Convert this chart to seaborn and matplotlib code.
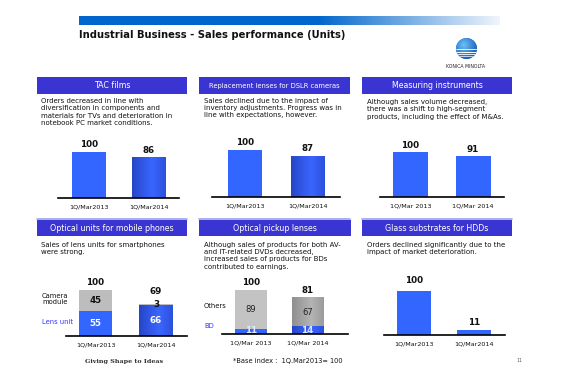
import numpy as np
import pandas as pd
import matplotlib
matplotlib.use("Agg")
import matplotlib.pyplot as plt
from matplotlib.patches import Rectangle, Circle
from matplotlib.colors import to_rgb
import seaborn as sns

# ---------------- data ----------------
periods_a = ['1Q/Mar2013', '1Q/Mar2014']
periods_b = ['1Q/Mar 2013', '1Q/Mar 2014']
tac = [100, 86]
dslr = [100, 87]
measuring = [100, 91]
mobile_lens = [55, 66]
mobile_camera = [45, 3]
pickup_bd = [11, 14]
pickup_others = [89, 67]
hdd = [100, 11]

titles = ['TAC films', 'Replacement lenses for DSLR cameras', 'Measuring instruments',
          'Optical units for mobile phones', 'Optical pickup lenses', 'Glass substrates for HDDs']
descs = [
    "Orders decreased in line with\ndiversification in components and\nmaterials for TVs and deterioration in\nnotebook PC market conditions.",
    "Sales declined due to the impact of\ninventory adjustments. Progress was in\nline with expectations, however.",
    "Although sales volume decreased,\nthere was a shift to high-segment\nproducts, including the effect of M&As.",
    "Sales of lens units for smartphones\nwere strong.",
    "Although sales of products for both AV-\nand IT-related DVDs decreased,\nincreased sales of products for BDs\ncontributed to earnings.",
    "Orders declined significantly due to the\nimpact of market deterioration.",
]

sns.set_style('white')
plt.rcParams['font.family'] = ['DejaVu Sans']

W, H = 562, 390
fig = plt.figure(figsize=(W / 100, H / 100), dpi=100)
fig.patch.set_facecolor('white')

BLUE = '#3366ff'
HEAD = '#3a35d2'


def fx(x):
    return x / W


def fy(y):
    return 1 - y / H


def add_ax(x0, x1, ytop, ybot):
    ax = fig.add_axes([x0 / W, 1 - ybot / H, (x1 - x0) / W, (ybot - ytop) / H])
    ax.set_facecolor('none')
    return ax


def ftext(x, y, s, **kw):
    fig.text(fx(x), fy(y), s, **kw)


# ---------------- title banner ----------------
bx = add_ax(79, 500, 16, 25)
n = 421
t = np.arange(n)
c0 = np.array(to_rgb('#0066cc'))
c1 = np.array(to_rgb('#f2f6fc'))
w = np.clip((t - 238) / (n - 238), 0, 1)
grad = c0[None, :] * (1 - w[:, None]) + c1[None, :] * w[:, None]
bx.imshow(grad[None, :, :], aspect='auto', extent=[0, 1, 0, 1])
bx.set_axis_off()

ftext(79, 35, 'Industrial Business - Sales performance (Units)', fontsize=7.2,
      fontweight='bold', va='center', ha='left', color='#111111')

# ---------------- logo ----------------
lx = add_ax(453, 480, 37, 60)
lx.set_xlim(-1.1, 1.1)
lx.set_ylim(-1.1, 1.1)
lx.set_aspect('equal')
circ = Circle((0, 0), 1.0, facecolor='#1670d6', edgecolor='none')
lx.add_patch(circ)
yy, xx = np.mgrid[1:-1:60j, -1:1:60j]
rad = np.sqrt((xx + 0.25) ** 2 + (yy - 0.35) ** 2)
wl = np.clip(1 - rad / 1.6, 0, 1)
light = np.array(to_rgb('#6fc0f5'))
dark = np.array(to_rgb('#0a4fb0'))
img = dark[None, None, :] * (1 - wl[..., None]) + light[None, None, :] * wl[..., None]
im = lx.imshow(img, extent=[-1, 1, -1, 1], clip_path=circ, zorder=2)
for yv, lw in [(-0.05, 0.6), (-0.3, 0.7), (-0.52, 0.6), (-0.72, 0.5)]:
    ln, = lx.plot([-1, 1], [yv, yv], color='white', lw=lw, zorder=3)
    ln.set_clip_path(circ)
lx.set_axis_off()
ftext(466, 66, 'KONICA MINOLTA', fontsize=3.3, ha='center', va='center', color='#222222')

# ---------------- headers ----------------
headers = [(37, 187, 77, 94), (199, 350, 77, 94), (362, 512, 77, 94),
           (37, 187, 220, 236), (199, 351, 220, 236), (362, 512, 220, 236)]
hsizes = [5.7, 4.9, 5.7, 5.7, 5.7, 5.7]
for (x0, x1, y0, y1), ttl, hs in zip(headers, titles, hsizes):
    fig.add_artist(Rectangle((fx(x0), fy(y1)), (x1 - x0) / W, (y1 - y0) / H,
                             transform=fig.transFigure, facecolor=HEAD, edgecolor='none'))
    ftext((x0 + x1) / 2, (y0 + y1) / 2 + 0.5, ttl, fontsize=hs, color='white',
          ha='center', va='center')

# row 1 bottom lines
for x0, x1 in [(37, 187), (199, 350), (362, 512)]:
    fig.add_artist(plt.Line2D([fx(x0), fx(x1)], [fy(219), fy(219)],
                              transform=fig.transFigure, color='#9aa2ec', lw=1.2))

# descriptions
desc_pos = [(41, 98), (204, 98), (367, 99), (41, 242), (204, 242), (367, 242)]
for (x, y), d in zip(desc_pos, descs):
    ftext(x, y, d, fontsize=5.05, ha='left', va='top', color='#111111', linespacing=1.25)


# ---------------- bar panels ----------------
def gradient(ax, patch, edge, mid):
    x0, y0 = patch.get_x(), patch.get_y()
    x1, y1 = x0 + patch.get_width(), y0 + patch.get_height()
    tt = np.linspace(0, 1, 60)
    wv = np.clip(1 - np.abs(tt - 0.6) / 0.6, 0, 1)
    e = np.array(to_rgb(edge))
    m = np.array(to_rgb(mid))
    arr = e[None, :] * (1 - wv[:, None]) + m[None, :] * wv[:, None]
    xl, yl = ax.get_xlim(), ax.get_ylim()
    ax.imshow(arr[None, :, :], extent=[x0, x1, y0, y1], aspect='auto',
              clip_path=patch, zorder=patch.get_zorder() + 0.1)
    ax.set_xlim(xl)
    ax.set_ylim(yl)


def panel(ax_x0, ax_x1, base, cA, cB, bw, h100, mid, labels):
    ah = 80
    ax = add_ax(ax_x0, ax_x1, base - ah, base)
    sp = cB - cA
    xlim = ((ax_x0 - cA) / sp, 1 + (ax_x1 - cB) / sp)
    info = dict(ax=ax, xlim=xlim, ylim=(0, 100 * ah / h100), width=bw / sp,
                mid=(mid - cA) / sp, labels=labels)
    return info


def finish(info):
    ax = info['ax']
    ax.set_xlim(info['xlim'])
    ax.set_ylim(info['ylim'])
    for s in ['left', 'top', 'right']:
        ax.spines[s].set_visible(False)
    ax.spines['bottom'].set_color('black')
    ax.spines['bottom'].set_linewidth(1.2)
    ax.spines['bottom'].set_zorder(5)
    ax.set_yticks([])
    ax.set_xticks([0, 1])
    ax.set_xticklabels(info['labels'], fontsize=4.6, color='#111111')
    ax.tick_params(axis='x', which='major', length=0, pad=5)
    ax.set_xticks([info['xlim'][0] + 0.01, info['mid'], info['xlim'][1] - 0.01], minor=True)
    ax.tick_params(axis='x', which='minor', length=3, width=1, direction='inout', color='black')
    ax.set_xlabel('')
    ax.set_ylabel('')


def simple(info, vals, offsets=(2, 2), grad_second=True):
    ax = info['ax']
    df = pd.DataFrame({'period': info['labels'], 'value': vals})
    sns.barplot(data=df, x='period', y='value', color=BLUE, saturation=1,
                width=info['width'], ax=ax, edgecolor='none')
    finish(info)
    if grad_second:
        gradient(ax, ax.patches[1], '#2646c8', '#3a66ff')
    for i, v in enumerate(vals):
        ax.annotate(str(v), (i, v), xytext=(0, offsets[i]), textcoords='offset points',
                    ha='center', va='bottom', fontsize=6.3, fontweight='bold', color='#111111')
    return ax


# TAC films
p1 = panel(58, 179, 197.5, 89, 149, 34, 46, 118, periods_a)
simple(p1, tac)
# DSLR lenses
p2 = panel(212, 340, 196.7, 245, 307.5, 34, 46.7, 276, periods_a)
simple(p2, dslr)
# Measuring
p3 = panel(380, 504, 196.7, 410.5, 473, 35, 44.4, 442, periods_b)
simple(p3, measuring, grad_second=False)
# HDD
p6 = panel(384, 505, 335, 414, 474, 33.5, 44, 445, periods_a)
simple(p6, hdd, offsets=(4, 2), grad_second=False)

# Mobile phones (stacked)
p4 = panel(66, 187, 335.7, 95.5, 156, 33.5, 45.7, 126.7, periods_a)
ax4 = p4['ax']
tot4 = [a + b for a, b in zip(mobile_lens, mobile_camera)]
df4 = pd.DataFrame({'period': periods_a, 'total': tot4, 'lens': mobile_lens})
sns.barplot(data=df4, x='period', y='total', color='#bdbdbd', saturation=1,
            width=p4['width'], ax=ax4, edgecolor='none')
sns.barplot(data=df4, x='period', y='lens', color=BLUE, saturation=1,
            width=p4['width'], ax=ax4, edgecolor='none')
finish(p4)
gradient(ax4, ax4.patches[3], '#2646c8', '#3a66ff')
for i in range(2):
    ax4.annotate(str(tot4[i]), (i, tot4[i]), xytext=(0, 2 if i == 0 else 6),
                 textcoords='offset points', ha='center', va='bottom',
                 fontsize=6.3, fontweight='bold', color='#111111')
    ax4.text(i, mobile_lens[i] / 2, str(mobile_lens[i]), ha='center', va='center',
             fontsize=6.3, fontweight='bold', color='white')
    ax4.text(i, mobile_lens[i] + mobile_camera[i] / 2, str(mobile_camera[i]),
             ha='center', va='center', fontsize=6.3, fontweight='bold', color='#111111')
ftext(42, 299, 'Camera\nmodule', fontsize=4.9, ha='left', va='center', color='#111111',
      linespacing=1.15)
ftext(42, 322, 'Lens unit', fontsize=4.9, ha='left', va='center', color='#3333ff')

# Optical pickup (stacked)
p5 = panel(222, 348, 333.5, 251, 307.5, 31.5, 44, 284, periods_b)
ax5 = p5['ax']
tot5 = [a + b for a, b in zip(pickup_bd, pickup_others)]
df5 = pd.DataFrame({'period': periods_b, 'total': tot5, 'bd': pickup_bd})
sns.barplot(data=df5, x='period', y='total', color='#c3c3c3', saturation=1,
            width=p5['width'], ax=ax5, edgecolor='none')
sns.barplot(data=df5, x='period', y='bd', color=BLUE, saturation=1,
            width=p5['width'], ax=ax5, edgecolor='none')
finish(p5)
gradient(ax5, ax5.patches[1], '#8f8f8f', '#b4b4b4')
gradient(ax5, ax5.patches[3], '#2646c8', '#3a66ff')
for i in range(2):
    ax5.annotate(str(tot5[i]), (i, tot5[i]), xytext=(0, 2),
                 textcoords='offset points', ha='center', va='bottom',
                 fontsize=6.3, fontweight='bold', color='#111111')
    ax5.text(i, pickup_bd[i] + pickup_others[i] / 2, str(pickup_others[i]),
             ha='center', va='center', fontsize=6, color='#222222')
    ax5.text(i, pickup_bd[i] / 2 + 0.5, str(pickup_bd[i]), ha='center', va='center',
             fontsize=6.3, fontweight='bold', color='#dfe6ff')
ftext(204, 305.5, 'Others', fontsize=4.9, ha='left', va='center', color='#111111')
ftext(204, 326, 'BD', fontsize=4.9, ha='left', va='center', color='#3333ff')

# ---------------- footer ----------------
ftext(124, 362, 'Giving Shape to Ideas', fontsize=4.6, ha='center', va='center',
      color='#333333', fontweight='bold', family='DejaVu Serif')
ftext(288, 361, '*Base index :  1Q.Mar2013= 100', fontsize=4.8, ha='center', va='center',
      color='#111111')
ftext(519, 361, '11', fontsize=3.3, ha='center', va='center', color='#555555')

fig.savefig('out.png', dpi=100, facecolor='white')
